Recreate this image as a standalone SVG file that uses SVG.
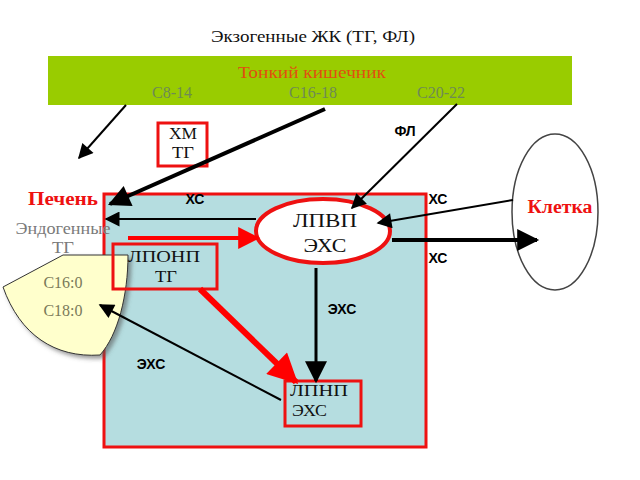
<svg xmlns="http://www.w3.org/2000/svg" width="640" height="480" viewBox="0 0 640 480">
<defs>
<style>
text.sf{font-family:"Liberation Serif","Times New Roman","DejaVu Serif",serif}
text.sans{font-family:"Liberation Sans",Arial,sans-serif;font-weight:bold;font-size:14px}
.box{fill:none;stroke:#ee1111;stroke-width:3}
</style>
<marker id="ahs" viewBox="0 0 10 10" refX="9" refY="5" markerWidth="18" markerHeight="15" orient="auto" markerUnits="userSpaceOnUse"><path d="M0,0 L10,5 L0,10 z" fill="#000"/></marker>
<marker id="ahb" viewBox="0 0 10 10" refX="9" refY="5" markerWidth="26" markerHeight="22" orient="auto" markerUnits="userSpaceOnUse"><path d="M0,0 L10,5 L0,10 z" fill="#000"/></marker>
<marker id="ahr" viewBox="0 0 10 10" refX="9" refY="5" markerWidth="26" markerHeight="22" orient="auto" markerUnits="userSpaceOnUse"><path d="M0,0 L10,5 L0,10 z" fill="#f00"/></marker>
<marker id="ahr2" viewBox="0 0 10 10" refX="9" refY="5" markerWidth="36" markerHeight="30" orient="auto" markerUnits="userSpaceOnUse"><path d="M0,0 L10,5 L0,10 z" fill="#f00"/></marker>
<filter id="sh" x="-20%" y="-20%" width="150%" height="150%"><feDropShadow dx="3" dy="3" stdDeviation="2" flood-color="#555" flood-opacity="0.6"/></filter>
</defs>
<rect width="640" height="480" fill="#fff"/>
<text class="sf" x="313" y="42" font-size="16" text-anchor="middle" fill="#111" textLength="204" lengthAdjust="spacingAndGlyphs">Экзогенные ЖК (ТГ, ФЛ)</text>
<g id="intestine">
<rect x="48" y="56" width="524" height="49" fill="#99cc00"/>
<text class="sf" x="312" y="78" font-size="16" text-anchor="middle" fill="#e05010" textLength="148" lengthAdjust="spacingAndGlyphs">Тонкий кишечник</text>
<text class="sf" x="172" y="98" font-size="16" text-anchor="middle" fill="#6e8a55">С8-14</text>
<text class="sf" x="313" y="98" font-size="16" text-anchor="middle" fill="#6e8a55">С16-18</text>
<text class="sf" x="441" y="98" font-size="16" text-anchor="middle" fill="#6e8a55">С20-22</text>
</g>
<g id="liver">
<rect x="104" y="194" width="322" height="253" fill="#b5dde0" stroke="#ee1111" stroke-width="3"/>
<text class="sf" x="28" y="205" font-size="18" font-weight="bold" fill="#ee1111" textLength="70" lengthAdjust="spacingAndGlyphs">Печень</text>
</g>
<g id="endogenous">
<text class="sf" x="63" y="234" font-size="16" text-anchor="middle" fill="#7a7a7a" textLength="95" lengthAdjust="spacingAndGlyphs">Эндогенные</text>
<text class="sf" x="63" y="253" font-size="16" text-anchor="middle" fill="#7a7a7a" textLength="22" lengthAdjust="spacingAndGlyphs">ТГ</text>
<path d="M63,255 L128,255 C128,295 118,335 100,355 C55,358 20,335 3,287 Z" fill="#ffffcc" stroke="#333" stroke-width="1" filter="url(#sh)"/>
<text class="sf" x="63" y="288" font-size="16" text-anchor="middle" fill="#7a7a5a">С16:0</text>
<text class="sf" x="63" y="316" font-size="16" text-anchor="middle" fill="#7a7a5a">С18:0</text>
</g>
<g id="xm">
<rect x="158" y="123" width="49" height="43" class="box"/>
<text class="sf" x="183" y="139" font-size="16" text-anchor="middle" fill="#111" textLength="28" lengthAdjust="spacingAndGlyphs">ХМ</text>
<text class="sf" x="183" y="158" font-size="16" text-anchor="middle" fill="#111" textLength="22" lengthAdjust="spacingAndGlyphs">ТГ</text>
</g>
<g id="hdl">
<ellipse cx="323" cy="231" rx="67" ry="32" fill="#fff" stroke="#ee1111" stroke-width="4"/>
<text class="sf" x="325" y="227" font-size="19" text-anchor="middle" fill="#111" textLength="64" lengthAdjust="spacingAndGlyphs">ЛПВП</text>
<text class="sf" x="325" y="252" font-size="19" text-anchor="middle" fill="#111" textLength="43" lengthAdjust="spacingAndGlyphs">ЭХС</text>
</g>
<g id="vldl">
<rect x="113" y="244" width="104" height="45" class="box"/>
<text class="sf" x="164" y="262" font-size="17" text-anchor="middle" fill="#111" textLength="72" lengthAdjust="spacingAndGlyphs">ЛПОНП</text>
<text class="sf" x="166" y="282" font-size="17" text-anchor="middle" fill="#111" textLength="22" lengthAdjust="spacingAndGlyphs">ТГ</text>
</g>
<g id="ldl">
<rect x="285" y="381" width="76" height="45" class="box"/>
<text class="sf" x="290" y="396" font-size="16" fill="#111" textLength="58" lengthAdjust="spacingAndGlyphs">ЛПНП</text>
<text class="sf" x="292" y="416" font-size="16" fill="#111" textLength="35" lengthAdjust="spacingAndGlyphs">ЭХС</text>
</g>
<g id="cell">
<ellipse cx="555" cy="212" rx="43" ry="78" fill="none" stroke="#444" stroke-width="1.5"/>
<text class="sf" x="560" y="213" font-size="18" font-weight="bold" text-anchor="middle" fill="#ee1111" textLength="65" lengthAdjust="spacingAndGlyphs">Клетка</text>
</g>
<g id="connectors" fill="none" stroke="#000">
<line x1="126" y1="105" x2="79" y2="158" stroke-width="2" marker-end="url(#ahs)"/>
<line x1="325" y1="109" x2="110" y2="204" stroke-width="4" marker-end="url(#ahb)"/>
<line x1="457" y1="104" x2="352" y2="208" stroke-width="2" marker-end="url(#ahs)"/>
<line x1="256" y1="219" x2="106" y2="219" stroke-width="2" marker-end="url(#ahs)"/>
<line x1="128" y1="238" x2="258" y2="238" stroke="#f00" stroke-width="4" marker-end="url(#ahr)"/>
<line x1="392" y1="240" x2="537" y2="240" stroke-width="4" marker-end="url(#ahb)"/>
<line x1="513" y1="200" x2="378" y2="223" stroke-width="2" marker-end="url(#ahs)"/>
<line x1="200" y1="289" x2="296" y2="382" stroke="#f00" stroke-width="6" marker-end="url(#ahr2)"/>
<line x1="316" y1="268" x2="316" y2="381" stroke-width="3" marker-end="url(#ahb)"/>
<line x1="281" y1="400" x2="100" y2="305" stroke-width="2" marker-end="url(#ahs)"/>
</g>
<g id="labels">
<text class="sans" x="195" y="204" text-anchor="middle">ХС</text>
<text class="sans" x="438" y="204" text-anchor="middle">ХС</text>
<text class="sans" x="438" y="263" text-anchor="middle">ХС</text>
<text class="sans" x="405" y="136" text-anchor="middle">ФЛ</text>
<text class="sans" x="342" y="314" text-anchor="middle">ЭХС</text>
<text class="sans" x="151" y="369" text-anchor="middle">ЭХС</text>
</g>
</svg>
